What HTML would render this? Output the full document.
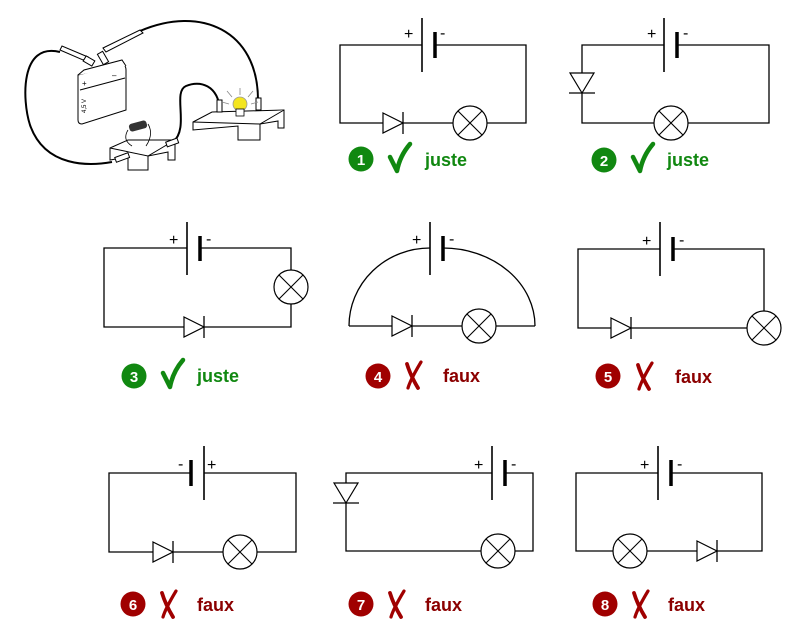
<!DOCTYPE html>
<html><head><meta charset="utf-8"><style>
html,body{margin:0;padding:0;background:#fff}
svg{display:block}
.w{fill:none;stroke:#000;stroke-width:1.3}
.t{font-family:"Liberation Sans",sans-serif;font-size:16px}
.lab{font-family:"Liberation Sans",sans-serif;font-weight:bold;font-size:18px}
.num{font-family:"Liberation Sans",sans-serif;font-weight:bold;font-size:15px;fill:#fff}
</style></head><body>
<svg width="800" height="639" viewBox="0 0 800 639" xmlns="http://www.w3.org/2000/svg">
<defs>
<g id="lamp"><circle r="17" fill="#fff" stroke="#000" stroke-width="1.2"/><path d="M-12,-12L12,12M12,-12L-12,12" stroke="#000" stroke-width="1.1"/></g>
<g id="dR"><path d="M0,-10L20,0L0,10Z" fill="#fff" stroke="#000" stroke-width="1.2"/><path d="M20,-11V11" stroke="#000" stroke-width="1.3"/></g>
<g id="dD"><path d="M-12,0L12,0L0,20Z" fill="#fff" stroke="#000" stroke-width="1.2"/><path d="M-13,20H13" stroke="#000" stroke-width="1.3"/></g>
<g id="ok"><path d="M-8,-1L-1,13C1,2 6,-7 12,-14" fill="none" stroke="#118811" stroke-width="4.5" stroke-linecap="round" stroke-linejoin="round"/></g>
<g id="ko"><path d="M-6,-12C-3,-2 2,7 5,12" fill="none" stroke="#a00000" stroke-width="3.8" stroke-linecap="round"/><path d="M8,-14C2,-4 -3,5 -5,12" fill="none" stroke="#a00000" stroke-width="3.2" stroke-linecap="round"/></g>
</defs>

<!-- illustration -->
<g fill="none" stroke="#000" stroke-width="2">
<path d="M60,52 C20,42 22,100 30,125 C45,168 90,166 112,162"/>
<path d="M140,31 C200,5 258,30 258,100"/>
<path d="M173,142 C190,128 172,92 186,86 C200,80 218,85 220,110"/>
</g>
<g stroke="#000" stroke-width="1" fill="#fff">
<path d="M78,75 L120,64 Q126,64 126,70 L126,110 L82,124 Q78,124 78,120 Z"/>
<path d="M78,75 L84,70 L122,60 L126,66"/>
<path d="M80,90 L125,78"/>
<path d="M193,122 L212,112 L284,110 L284,128 L278,128 L278,121 L260,124 L260,140 L238,140 L238,126 L193,130 Z"/>
<path d="M193,122 L260,124 L284,110"/>
<path d="M110,148 L128,140 L175,140 L175,160 L168,160 L168,152 L148,156 L148,170 L128,170 L128,157 L110,160 Z"/>
<path d="M110,148 L148,156 L175,140"/>
<path d="M60,50 L83,60 L88,57 L62,46Z"/><path d="M103,48 L140,30 L143,33 L106,52Z"/>
<rect x="84" y="58" width="10" height="6" transform="rotate(30 89 61)"/>
<rect x="100" y="52" width="6" height="12" transform="rotate(-30 103 58)"/>
<rect x="217" y="100" width="5" height="12"/><rect x="256" y="98" width="5" height="12"/>
<rect x="115" y="155" width="14" height="5" transform="rotate(-20 122 157)"/>
<rect x="166" y="140" width="12" height="5" transform="rotate(-20 172 142)"/>
</g>
<rect x="129" y="122" width="18" height="8" rx="3" fill="#333" transform="rotate(-15 138 126)"/>
<path d="M128,130 Q122,140 132,146 M148,124 Q154,134 146,146" fill="none" stroke="#000" stroke-width="0.8"/>
<g stroke="#888" stroke-width="0.8"><path d="M240,95V88M232,97L227,91M248,97L253,91M229,104L222,102M251,104L258,102"/></g>
<circle cx="240" cy="104" r="7" fill="#f4e520" stroke="#999" stroke-width="0.8"/>
<rect x="236" y="109" width="8" height="7" fill="#fff" stroke="#000" stroke-width="0.8"/>
<text x="82" y="86" font-family="Liberation Sans,sans-serif" font-size="8">+</text>
<text x="112" y="78" font-family="Liberation Sans,sans-serif" font-size="8">–</text>
<text x="86" y="113" font-family="Liberation Sans,sans-serif" font-size="6" transform="rotate(-90 86 113)">4,5 V</text>

<!-- circuit 1 -->
<path class="w" d="M422,45H340V123H526V45H435"/>
<path d="M422,18V72" stroke="#000" stroke-width="1.6"/><path d="M435,32V58" stroke="#000" stroke-width="3.5"/>
<text class="t" x="404" y="39">+</text><text class="t" x="440" y="38">-</text>
<use href="#dR" x="383" y="123"/><use href="#lamp" x="470" y="123"/>
<circle cx="361" cy="159" r="12.5" fill="#118811"/><text class="num" x="361" y="165" text-anchor="middle">1</text>
<use href="#ok" x="398" y="158"/><text class="lab" x="425" y="166" fill="#118811">juste</text>

<!-- circuit 2 -->
<path class="w" d="M664,45H582V123H769V45H677"/>
<path d="M664,18V72" stroke="#000" stroke-width="1.6"/><path d="M677,32V58" stroke="#000" stroke-width="3.5"/>
<text class="t" x="647" y="39">+</text><text class="t" x="683" y="38">-</text>
<use href="#dD" x="582" y="73"/><use href="#lamp" x="671" y="123"/>
<circle cx="604" cy="160" r="12.5" fill="#118811"/><text class="num" x="604" y="166" text-anchor="middle">2</text>
<use href="#ok" x="641" y="158"/><text class="lab" x="667" y="166" fill="#118811">juste</text>

<!-- circuit 3 -->
<path class="w" d="M187,248H104V327H291V248H200"/>
<path d="M187,222V275" stroke="#000" stroke-width="1.6"/><path d="M200,236V261" stroke="#000" stroke-width="3.5"/>
<text class="t" x="169" y="245">+</text><text class="t" x="206" y="244">-</text>
<use href="#dR" x="184" y="327"/><use href="#lamp" x="291" y="287"/>
<circle cx="134" cy="376" r="12.5" fill="#118811"/><text class="num" x="134" y="382" text-anchor="middle">3</text>
<use href="#ok" x="171" y="374"/><text class="lab" x="197" y="382" fill="#118811">juste</text>

<!-- circuit 4 -->
<path class="w" d="M349,326A81,78 0 0 1 430,248M443,248A92,78 0 0 1 535,326M349,326H535"/>
<path d="M430,222V275" stroke="#000" stroke-width="1.6"/><path d="M443,236V261" stroke="#000" stroke-width="3.5"/>
<text class="t" x="412" y="245">+</text><text class="t" x="449" y="244">-</text>
<use href="#dR" x="392" y="326"/><use href="#lamp" x="479" y="326"/>
<circle cx="378" cy="376" r="12.5" fill="#a00000"/><text class="num" x="378" y="382" text-anchor="middle">4</text>
<use href="#ko" x="413" y="376"/><text class="lab" x="443" y="382" fill="#8b0000">faux</text>

<!-- circuit 5 -->
<path class="w" d="M660,249H578V328H764V249H673"/>
<path d="M660,222V276" stroke="#000" stroke-width="1.6"/><path d="M673,237V261" stroke="#000" stroke-width="3.5"/>
<text class="t" x="642" y="246">+</text><text class="t" x="679" y="245">-</text>
<use href="#dR" x="611" y="328"/><use href="#lamp" x="764" y="328"/>
<circle cx="608" cy="376" r="12.5" fill="#a00000"/><text class="num" x="608" y="382" text-anchor="middle">5</text>
<use href="#ko" x="644" y="377"/><text class="lab" x="675" y="383" fill="#8b0000">faux</text>

<!-- circuit 6 -->
<path class="w" d="M191,473H109V552H296V473H204"/>
<path d="M204,446V500" stroke="#000" stroke-width="1.6"/><path d="M191,460V486" stroke="#000" stroke-width="3.5"/>
<text class="t" x="178" y="469">-</text><text class="t" x="207" y="470">+</text>
<use href="#dR" x="153" y="552"/><use href="#lamp" x="240" y="552"/>
<circle cx="133" cy="604" r="12.5" fill="#a00000"/><text class="num" x="133" y="610" text-anchor="middle">6</text>
<use href="#ko" x="168" y="605"/><text class="lab" x="197" y="611" fill="#8b0000">faux</text>

<!-- circuit 7 -->
<path class="w" d="M492,473H346V551H533V473H505"/>
<path d="M492,446V500" stroke="#000" stroke-width="1.6"/><path d="M505,460V486" stroke="#000" stroke-width="3.5"/>
<text class="t" x="474" y="470">+</text><text class="t" x="511" y="469">-</text>
<use href="#dD" x="346" y="483"/><use href="#lamp" x="498" y="551"/>
<circle cx="361" cy="604" r="12.5" fill="#a00000"/><text class="num" x="361" y="610" text-anchor="middle">7</text>
<use href="#ko" x="396" y="605"/><text class="lab" x="425" y="611" fill="#8b0000">faux</text>

<!-- circuit 8 -->
<path class="w" d="M658,473H576V551H762V473H671"/>
<path d="M658,446V500" stroke="#000" stroke-width="1.6"/><path d="M671,460V486" stroke="#000" stroke-width="3.5"/>
<text class="t" x="640" y="470">+</text><text class="t" x="677" y="469">-</text>
<use href="#lamp" x="630" y="551"/><use href="#dR" x="697" y="551"/>
<circle cx="605" cy="604" r="12.5" fill="#a00000"/><text class="num" x="605" y="610" text-anchor="middle">8</text>
<use href="#ko" x="640" y="605"/><text class="lab" x="668" y="611" fill="#8b0000">faux</text>
</svg>
</body></html>
